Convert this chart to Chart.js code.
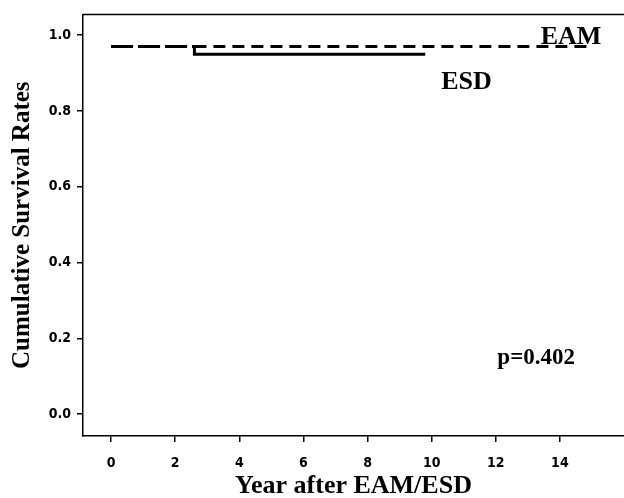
<!DOCTYPE html>
<html>
<head>
<meta charset="utf-8">
<script src="https://cdn.jsdelivr.net/npm/chart.js@4.4.1/dist/chart.umd.min.js"></script>
<style>
  html, body { margin: 0; padding: 0; background: #fff; }
  canvas { display: block; }
</style>
</head>
<body>
<canvas id="km" width="624" height="498"></canvas>
<script>
// Kaplan-Meier curves
const eamTime  = [0, 2.6, 15];
const eamSurv  = [0.97, 0.97, 0.97];
const esdTime  = [0, 2.6, 2.6, 9.8];
const esdSurv  = [0.97, 0.97, 0.95, 0.95];

const xTicks = [0, 2, 4, 6, 8, 10, 12, 14];
const yTicks = [0.0, 0.2, 0.4, 0.6, 0.8, 1.0];

const SERIF = "'Liberation Serif', 'DejaVu Serif', serif";
const NARROW = "'DejaVu Sans Condensed', 'Liberation Sans Narrow', 'Liberation Sans', sans-serif";

const toPts = (xs, ys) => xs.map((x, i) => ({x: x, y: ys[i]}));

// labels drawn at data positions
const notes = [
  {text: 'EAM',     x: 13.4, y: 0.995, size: 26},
  {text: 'ESD',     x: 10.3, y: 0.877, size: 26},
  {text: 'p=0.402', x: 12.05, y: 0.149, size: 23},
];

const notesPlugin = {
  id: 'notes',
  afterDraw(chart) {
    const {ctx, chartArea, scales} = chart;
    ctx.save();
    // top frame line
    ctx.strokeStyle = '#000';
    ctx.lineWidth = 1.5;
    ctx.beginPath();
    ctx.moveTo(chartArea.left, chartArea.top);
    ctx.lineTo(chartArea.right, chartArea.top);
    ctx.stroke();

    ctx.fillStyle = '#000';
    ctx.textBaseline = 'middle';
    ctx.textAlign = 'left';
    notes.forEach(n => {
      ctx.font = `bold ${n.size}px ${SERIF}`;
      ctx.fillText(n.text, scales.x.getPixelForValue(n.x), scales.y.getPixelForValue(n.y));
    });
    ctx.restore();
  }
};

new Chart(document.getElementById('km'), {
  type: 'line',
  data: {
    datasets: [
      {
        label: 'EAM',
        data: toPts(eamTime, eamSurv),
        borderColor: '#000',
        borderWidth: 3,
        pointRadius: 0,
        stepped: true,
        fill: false,
        segment: {
          borderDash: ctx => ctx.p0DataIndex === 0 ? [22, 5] : [12, 7],
        },
      },
      {
        label: 'ESD',
        data: toPts(esdTime, esdSurv),
        borderColor: '#000',
        borderWidth: 3,
        pointRadius: 0,
        fill: false,
        segment: {
          borderDash: ctx => ctx.p0DataIndex === 0 ? [22, 5] : [],
        },
      },
    ]
  },
  options: {
    responsive: false,
    animation: false,
    layout: { padding: { top: 12, right: 0, left: 0, bottom: 0 } },
    plugins: {
      legend: { display: false },
      tooltip: { enabled: false },
    },
    scales: {
      x: {
        type: 'linear',
        min: -0.875,
        max: 16.0,
        afterBuildTicks: s => { s.ticks = xTicks.map(v => ({value: v})); },
        afterFit: s => { s.height = 62; },
        border: { display: true, color: '#000', width: 1.5 },
        grid: { drawOnChartArea: false, drawTicks: true, tickLength: 6, color: '#000', lineWidth: 1.5 },
        ticks: { color: '#000', padding: 13, font: { family: NARROW, weight: 'bold', size: 14 } },
        title: {
          display: true,
          text: 'Year after EAM/ESD',
          color: '#000',
          padding: { top: 6, bottom: 0 },
          font: { family: SERIF, weight: 'bold', size: 26, lineHeight: 0.9 },
        },
      },
      y: {
        type: 'linear',
        min: -0.058,
        max: 1.055,
        afterBuildTicks: s => { s.ticks = yTicks.map(v => ({value: v})); },
        afterFit: s => { s.width = 83; },
        border: { display: true, color: '#000', width: 1.5 },
        grid: { drawOnChartArea: false, drawTicks: true, tickLength: 6, color: '#000', lineWidth: 1.5 },
        ticks: {
          color: '#000', padding: 6,
          font: { family: NARROW, weight: 'bold', size: 14 },
          callback: v => v.toFixed(1),
        },
        title: {
          display: true,
          text: 'Cumulative Survival Rates',
          color: '#000',
          padding: { top: 8, bottom: 12 },
          font: { family: SERIF, weight: 'bold', size: 25 },
        },
      },
    },
  },
  plugins: [notesPlugin],
});
</script>
</body>
</html>
